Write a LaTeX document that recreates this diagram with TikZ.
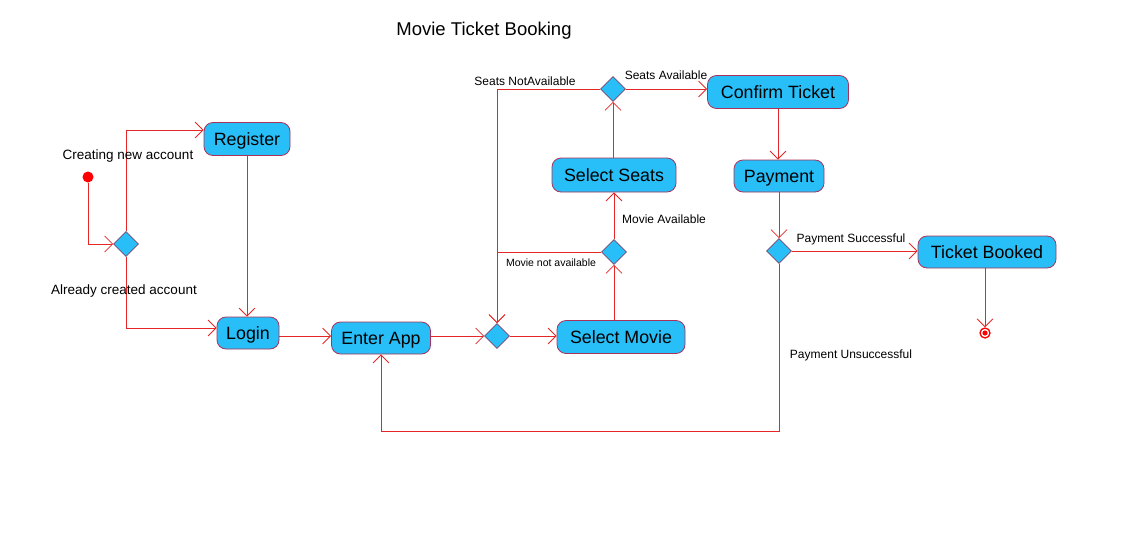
\documentclass[tikz,border=0pt]{standalone}
\usepackage{fontspec}
\setmainfont{Liberation Sans}
\usetikzlibrary{shapes.geometric,arrows.meta}
\definecolor{boxfill}{RGB}{40,190,248}
\definecolor{boxline}{RGB}{170,50,90}
\definecolor{dialine}{RGB}{120,70,110}
\definecolor{edge}{RGB}{228,40,40}
\tikzset{
  act/.style={rectangle, rounded corners=9pt, draw=boxline, fill=boxfill, line width=0.8pt,
    minimum height=33pt, inner sep=0pt, text height=14pt, text depth=2pt, font=\fontsize{17.8}{20}\selectfont},
  dec/.style={diamond, draw=dialine, fill=boxfill, line width=0.6pt, minimum width=25pt, minimum height=25pt, inner sep=0pt},
  flow/.style={draw=edge, line width=0.8pt, -{Straight Barb[length=8pt,width=16pt,line width=0.8pt]}},
  lbl/.style={font=\fontsize{12}{14}\selectfont, inner sep=0pt},
  slbl/.style={font=\fontsize{10.5}{12}\selectfont, inner sep=0pt},
}
\begin{document}
\begin{tikzpicture}[x=1pt,y=-1pt]
\path[use as bounding box] (0,0) rectangle (1123,546);
\node[font=\fontsize{18.5}{22}\selectfont] (title) at (484,31) {Movie Ticket Booking};

\node[circle, fill=red, minimum size=11pt, inner sep=0pt] (init) at (88,177) {};
\node[dec] (d1) at (126,244) {};
\node[act, minimum width=86pt] (reg) at (247,139) {Register};
\node[act, minimum width=62pt, minimum height=32pt] (login) at (248,333) {Login};
\node[act, minimum width=99pt, minimum height=32pt] (enter) at (381,338) {Enter App};
\node[dec] (d2) at (497,336) {};
\node[act, minimum width=128pt] (movie) at (621,337) {Select Movie};
\node[dec] (d3) at (614,252) {};
\node[act, minimum width=124pt, minimum height=34pt] (seats) at (614,175) {Select Seats};
\node[dec] (d4) at (613,89) {};
\node[act, minimum width=141pt] (confirm) at (778,92) {Confirm Ticket};
\node[act, minimum width=90pt, minimum height=32pt] (pay) at (779,176) {Payment};
\node[dec] (d5) at (779,251) {};
\node[act, minimum width=138pt, minimum height=32pt] (booked) at (987,252) {Ticket Booked};
\node[circle, draw=red, line width=1.3pt, minimum size=10pt, inner sep=0pt] (fin) at (985,333) {};
\fill[red] (fin.center) circle (2.6pt);

\coordinate (back) at (779,431);

\draw[flow] (init) |- (d1);
\draw[flow] (d1.north) |- ([yshift=9pt]reg.west);
\draw[flow] (d1.south) |- ([yshift=5pt]login.west);
\draw[flow] (reg.south) -- (reg.south |- login.north);
\draw[flow] ([yshift=-3pt]login.east) -- ([yshift=2pt]enter.west);
\draw[flow] ([yshift=2pt]enter.east) -- (d2.west);
\draw[flow] (d2.east) -- (movie.west |- d2.east);
\draw[flow] ([xshift=-7pt]movie.north) -- (d3.south);
\draw[flow] (d3.north) -- (seats.south);
\draw[flow] (d3.west) -| (d2.north);
\draw[flow] ([xshift=-1pt]seats.north) -- (d4.south);
\draw[flow] (d4.west) -| (d2.north);
\draw[flow] (d4.east) -- (confirm.west |- d4.east);
\draw[flow] (confirm.south) -- (confirm.south |- pay.north);
\draw[flow] (pay.south) -- (d5.north);
\draw[flow] (d5.east) -- (booked.west |- d5.east);
\draw[flow] (d5.south) -- (back) -| (enter.south);
\draw[flow] ([xshift=-2pt]booked.south) -- (fin.north);

\node[font=\fontsize{13.5}{16}\selectfont, inner sep=0pt] (l1) at (128,156) {Creating new account};
\node[font=\fontsize{13.5}{16}\selectfont, inner sep=0pt] (l2) at (124,291) {Already created account};
\node[lbl] (l3) at (525,81) {Seats NotAvailable};
\node[lbl] (l4) at (666,75) {Seats Available};
\node[lbl] (l5) at (664,219) {Movie Available};
\node[slbl] (l6) at (551,263) {Movie not available};
\node[lbl] (l7) at (851,239) {Payment Successful};
\node[lbl] (l8) at (851,355) {Payment Unsuccessful};
\end{tikzpicture}
\end{document}
